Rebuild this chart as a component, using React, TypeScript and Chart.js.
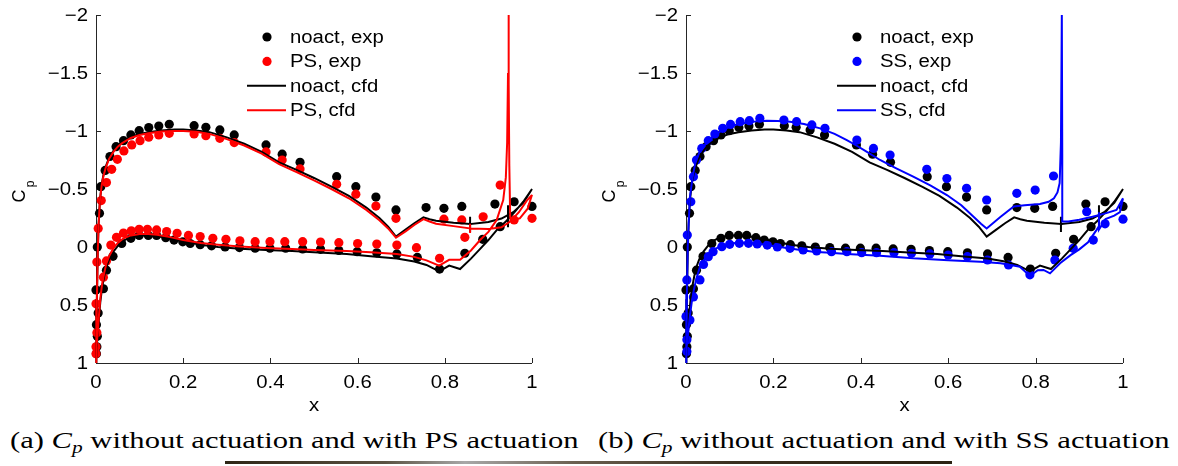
import React, { useEffect, useLayoutEffect, useRef, useState } from "react";
import { Chart, registerables } from "chart.js";

Chart.register(...registerables);

// ---------- axis ticks ----------
const xTickValues = [0, 0.2, 0.4, 0.6, 0.8, 1];
const xTickLabels = ["0", "0.2", "0.4", "0.6", "0.8", "1"];
const yTickValues = [-2, -1.5, -1, -0.5, 0, 0.5, 1];
const yTickLabels = ["\u22122", "\u22121.5", "\u22121", "\u22120.5", "0", "0.5", "1"];

// ---------- experiment: no actuation ----------
const noactExpX = [
  0.001, 0.002, 0.003, 0.001, 0.005, 0.0, 0.017, 0.003, 0.008, 0.011, 0.021, 0.032, 0.046, 0.063, 0.08, 0.099, 0.121,
  0.144, 0.168, 0.225, 0.252, 0.284, 0.317, 0.39, 0.427, 0.468, 0.552, 0.596, 0.642, 0.688, 0.757, 0.798, 0.839,
  0.915, 0.959, 1.0,
  0.024, 0.039, 0.059, 0.08, 0.099, 0.12, 0.139, 0.16, 0.179, 0.199, 0.216, 0.239, 0.265, 0.296, 0.329, 0.365, 0.399,
  0.435, 0.474, 0.515, 0.557, 0.599, 0.644, 0.69, 0.737, 0.788, 0.846, 0.887, 0.927,
];
const noactExpCp = [
  0.92, 0.86, 0.77, 0.67, 0.57, 0.37, 0.36, 0.0, -0.29, -0.52, -0.66, -0.78, -0.865, -0.917, -0.966, -1.003, -1.03,
  -1.043, -1.058, -1.046, -1.032, -1.009, -0.966, -0.88, -0.8, -0.73, -0.606, -0.52, -0.43, -0.32, -0.34, -0.333, -0.35,
  -0.37, -0.39, -0.35,
  0.2, 0.08, -0.03, -0.075, -0.1, -0.1, -0.1, -0.08, -0.06, -0.045, -0.03, -0.02, -0.01, 0.0, 0.005, 0.01, 0.01,
  0.01, 0.017, 0.02, 0.03, 0.04, 0.05, 0.06, 0.09, 0.19, 0.054, -0.066, -0.175,
];

// ---------- experiment: PS actuation ----------
const psExpX = [
  0.0, 0.0, 0.002, 0.0, 0.002, 0.005, 0.012, 0.024, 0.036, 0.049, 0.064, 0.082, 0.101, 0.121, 0.144, 0.168, 0.225,
  0.252, 0.284, 0.317, 0.39, 0.427, 0.468, 0.552, 0.596, 0.642, 0.688, 0.798, 0.839, 0.927, 0.959, 1.0,
  0.017, 0.024, 0.034, 0.047, 0.063, 0.081, 0.099, 0.118, 0.139, 0.162, 0.186, 0.212, 0.239, 0.268, 0.298, 0.33,
  0.365, 0.399, 0.433, 0.474, 0.515, 0.557, 0.6, 0.644, 0.69, 0.735, 0.788, 0.846, 0.888,
];
const psExpCp = [
  0.92, 0.86, 0.74, 0.49, 0.13, -0.16, -0.4, -0.555, -0.67, -0.756, -0.828, -0.88, -0.917, -0.946, -0.966, -0.98,
  -0.974, -0.96, -0.937, -0.9, -0.82, -0.75, -0.673, -0.54, -0.455, -0.353, -0.247, -0.24, -0.233, -0.534, -0.233,
  -0.247,
  0.26, 0.12, -0.017, -0.083, -0.12, -0.14, -0.153, -0.153, -0.147, -0.133, -0.118, -0.1, -0.09, -0.075, -0.067,
  -0.054, -0.046, -0.046, -0.046, -0.046, -0.043, -0.037, -0.03, -0.026, -0.017, 0.006, 0.097, -0.083, -0.26,
];

// ---------- experiment: SS actuation ----------
const ssExpX = [
  0.002, 0.002, 0.0, 0.009, 0.002, 0.003, 0.011, 0.017, 0.024, 0.036, 0.051, 0.066, 0.084, 0.102, 0.124, 0.145,
  0.169, 0.224, 0.253, 0.288, 0.318, 0.391, 0.429, 0.467, 0.551, 0.597, 0.642, 0.688, 0.757, 0.799, 0.841, 0.917,
  0.959, 1.0,
  0.017, 0.032, 0.04, 0.051, 0.062, 0.082, 0.1, 0.122, 0.143, 0.163, 0.186, 0.209, 0.238, 0.268, 0.299, 0.333,
  0.368, 0.402, 0.436, 0.476, 0.516, 0.558, 0.6, 0.644, 0.69, 0.738, 0.787, 0.844, 0.886, 0.932,
];
const ssExpCp = [
  0.9, 0.8, 0.6, 0.63, 0.284, -0.103, -0.39, -0.606, -0.75, -0.85, -0.917, -0.974, -1.023, -1.057, -1.08, -1.089,
  -1.11, -1.095, -1.08, -1.052, -1.023, -0.922, -0.85, -0.793, -0.67, -0.59, -0.506, -0.405, -0.463, -0.491, -0.612,
  -0.304, -0.2, -0.24,
  0.43, 0.284, 0.15, 0.083, 0.04, -0.003, -0.023, -0.032, -0.032, -0.026, -0.017, 0.0, 0.011, 0.026, 0.034, 0.04,
  0.04, 0.049, 0.049, 0.049, 0.054, 0.06, 0.069, 0.083, 0.112, 0.155, 0.24, 0.112, 0.011, -0.06,
];

// ---------- CFD: no actuation ----------
const noactCfdUpperX = [
  0, 0.001, 0.002, 0.004, 0.006, 0.009, 0.013, 0.017, 0.022, 0.03, 0.04, 0.05, 0.06, 0.08, 0.1, 0.12, 0.15, 0.18,
  0.2, 0.23, 0.26, 0.3, 0.34, 0.38, 0.42, 0.46, 0.5, 0.54, 0.58, 0.62, 0.65, 0.67, 0.688, 0.71, 0.73, 0.751, 0.765,
  0.78, 0.82, 0.858, 0.858, 0.858, 0.858, 0.9, 0.93, 0.957, 0.98, 1.0,
];
const noactCfdUpperCp = [
  1.0, 0.75, 0.45, 0.05, -0.2, -0.4, -0.54, -0.62, -0.69, -0.77, -0.83, -0.875, -0.905, -0.95, -0.975, -0.99, -1.005,
  -1.012, -1.012, -1.005, -0.99, -0.945, -0.89, -0.82, -0.73, -0.665, -0.595, -0.52, -0.44, -0.34, -0.25, -0.175,
  -0.09, -0.15, -0.205, -0.256, -0.24, -0.227, -0.21, -0.198, -0.26, -0.13, -0.198, -0.215, -0.245, -0.3, -0.38, -0.5,
];
const noactCfdLowerX = [
  0, 0.002, 0.004, 0.007, 0.01, 0.014, 0.019, 0.024, 0.03, 0.04, 0.05, 0.063, 0.08, 0.1, 0.12, 0.14, 0.17, 0.2, 0.24,
  0.28, 0.33, 0.39, 0.45, 0.5, 0.575, 0.63, 0.69, 0.73, 0.758, 0.787, 0.81, 0.835, 0.86, 0.88, 0.9, 0.92, 0.94, 0.945,
  0.945, 0.945, 0.945, 0.96, 0.98, 1.0,
];
const noactCfdLowerCp = [
  1.0, 0.88, 0.76, 0.6, 0.47, 0.35, 0.25, 0.17, 0.11, 0.04, -0.01, -0.055, -0.085, -0.1, -0.1, -0.095, -0.075, -0.05,
  -0.02, 0.0, 0.015, 0.026, 0.035, 0.045, 0.06, 0.08, 0.1, 0.125, 0.155, 0.21, 0.16, 0.19, 0.1, 0.02, -0.06, -0.15,
  -0.22, -0.24, -0.36, -0.17, -0.24, -0.3, -0.39, -0.5,
];

// ---------- CFD: PS actuation ----------
const psCfdUpperX = [
  0, 0.001, 0.002, 0.004, 0.006, 0.009, 0.013, 0.017, 0.022, 0.03, 0.04, 0.05, 0.06, 0.08, 0.1, 0.12, 0.15, 0.18,
  0.2, 0.23, 0.26, 0.3, 0.34, 0.38, 0.42, 0.46, 0.5, 0.54, 0.58, 0.62, 0.65, 0.67, 0.688, 0.71, 0.73, 0.751, 0.765,
  0.78, 0.82, 0.858, 0.858, 0.858, 0.858, 0.9, 0.93, 0.95, 0.97, 0.988, 1.0,
];
const psCfdUpperCp = [
  1.0, 0.75, 0.45, 0.05, -0.2, -0.4, -0.53, -0.61, -0.68, -0.76, -0.82, -0.865, -0.895, -0.94, -0.965, -0.98, -0.995,
  -1.0, -1.0, -0.993, -0.975, -0.93, -0.875, -0.805, -0.715, -0.645, -0.575, -0.5, -0.42, -0.32, -0.23, -0.16, -0.08,
  -0.135, -0.19, -0.24, -0.22, -0.2, -0.18, -0.16, -0.2, -0.12, -0.16, -0.155, -0.17, -0.22, -0.3, -0.4, -0.45,
];
const psCfdLowerX = [
  0, 0.002, 0.004, 0.007, 0.01, 0.014, 0.019, 0.024, 0.03, 0.04, 0.05, 0.063, 0.08, 0.1, 0.12, 0.14, 0.17, 0.2, 0.24,
  0.28, 0.33, 0.39, 0.45, 0.5, 0.575, 0.63, 0.69, 0.73, 0.758, 0.787, 0.81, 0.835, 0.86, 0.881, 0.9, 0.919, 0.934,
  0.94, 0.943, 0.945, 0.946, 0.947, 0.948, 0.95, 0.955, 0.972, 0.99, 1.0,
];
const psCfdLowerCp = [
  1.0, 0.87, 0.74, 0.58, 0.44, 0.32, 0.22, 0.14, 0.08, 0.01, -0.035, -0.075, -0.1, -0.112, -0.112, -0.105, -0.085,
  -0.06, -0.035, -0.02, -0.005, 0.008, 0.018, 0.025, 0.035, 0.045, 0.06, 0.085, 0.115, 0.16, 0.11, 0.11, 0.03, -0.06,
  -0.13, -0.233, -0.405, -0.6, -0.9, -1.5, -2.0, -1.4, -0.7, -0.25, -0.233, -0.247, -0.33, -0.45,
];

// ---------- CFD: SS actuation ----------
const ssCfdUpperX = [
  0, 0.001, 0.002, 0.004, 0.006, 0.009, 0.015, 0.021, 0.03, 0.04, 0.05, 0.062, 0.08, 0.1, 0.12, 0.139, 0.16, 0.185,
  0.21, 0.238, 0.27, 0.307, 0.34, 0.368, 0.39, 0.414, 0.444, 0.48, 0.52, 0.56, 0.597, 0.63, 0.658, 0.675, 0.688, 0.72,
  0.75, 0.775, 0.81, 0.83, 0.842, 0.85, 0.855, 0.858, 0.859, 0.86, 0.861, 0.862, 0.875, 0.9, 0.93, 0.96, 0.985, 1.0,
];
const ssCfdUpperCp = [
  1.0, 0.7, 0.4, 0.0, -0.2, -0.43, -0.6, -0.72, -0.81, -0.865, -0.91, -0.95, -1.0, -1.037, -1.06, -1.072, -1.083,
  -1.089, -1.087, -1.08, -1.06, -1.023, -0.975, -0.922, -0.875, -0.82, -0.75, -0.68, -0.606, -0.53, -0.448, -0.36,
  -0.26, -0.2, -0.16, -0.26, -0.35, -0.36, -0.37, -0.39, -0.42, -0.47, -0.55, -0.9, -2.0, -2.0, -0.8, -0.22, -0.22,
  -0.235, -0.26, -0.29, -0.32, -0.42,
];
const ssCfdLowerX = [
  0, 0.002, 0.004, 0.008, 0.013, 0.018, 0.024, 0.032, 0.045, 0.062, 0.08, 0.1, 0.12, 0.139, 0.17, 0.215, 0.25, 0.291,
  0.33, 0.368, 0.444, 0.52, 0.6, 0.673, 0.72, 0.749, 0.764, 0.787, 0.805, 0.818, 0.833, 0.856, 0.88, 0.9, 0.92, 0.94,
  0.945, 0.945, 0.945, 0.96, 0.98, 0.993, 1.0,
];
const ssCfdLowerCp = [
  1.0, 0.88, 0.78, 0.62, 0.48, 0.37, 0.27, 0.17, 0.09, 0.026, -0.01, -0.03, -0.037, -0.037, -0.025, 0.0, 0.02, 0.04,
  0.05, 0.06, 0.075, 0.098, 0.115, 0.127, 0.14, 0.16, 0.17, 0.25, 0.2, 0.198, 0.227, 0.14, 0.07, 0.02, -0.04, -0.15,
  -0.18, -0.3, -0.15, -0.24, -0.27, -0.3, -0.42,
];

const BLACK = "#000000";
const RED = "#ff0000";
const BLUE = "#0000ff";
const FONT = '"Liberation Sans", Arial, Helvetica, sans-serif';
const SERIF = '"Liberation Serif", "Times New Roman", Times, serif';
const TEXT_SIZE = 18;
const TEXT_STRETCH = 1.13;

function pts(xs: number[], ys: number[]) {
  return xs.map((x, i) => ({ x, y: ys[i] }));
}
function loop(ux: number[], uy: number[], lx: number[], ly: number[]) {
  return [...pts(ux, uy).reverse(), ...pts(lx, ly)];
}

function expSet(label: string, color: string, data: any[], order: number) {
  return {
    label,
    data,
    showLine: false,
    pointRadius: 4.6,
    pointHoverRadius: 4.6,
    pointBorderWidth: 0,
    borderWidth: 0,
    backgroundColor: color,
    borderColor: color,
    clip: false,
    order,
  };
}
function cfdSet(label: string, color: string, data: any[], order: number) {
  return {
    label,
    data,
    showLine: true,
    pointRadius: 0,
    pointHoverRadius: 0,
    borderWidth: 2,
    borderColor: color,
    backgroundColor: color,
    fill: false,
    tension: 0,
    clip: false,
    order,
  };
}

function tickLabel(values: number[], labels: string[], v: number) {
  const i = values.findIndex((t) => Math.abs(t - v) < 1e-6);
  return i >= 0 ? labels[i] : "";
}

function stretchedText(ctx: CanvasRenderingContext2D, text: string, x: number, y: number, size: number) {
  ctx.save();
  ctx.translate(x, y);
  ctx.scale(TEXT_STRETCH, 1);
  ctx.font = `${size}px ${FONT}`;
  ctx.fillText(text, 0, 0);
  ctx.restore();
}

const decorPlugin = {
  id: "decor",
  beforeDatasetsDraw(chart: any) {
    const { ctx, chartArea: ca, scales } = chart;
    const x = scales.x;
    const y = scales.y;
    ctx.save();
    ctx.strokeStyle = "#262626";
    ctx.lineWidth = 1;
    ctx.beginPath();
    ctx.moveTo(ca.left + 0.5, ca.top);
    ctx.lineTo(ca.left + 0.5, ca.bottom + 0.5);
    ctx.lineTo(ca.right, ca.bottom + 0.5);
    for (const t of x.ticks) {
      const px = Math.round(x.getPixelForValue(t.value)) + 0.5;
      ctx.moveTo(px, ca.bottom);
      ctx.lineTo(px, ca.bottom - 5);
    }
    for (const t of y.ticks) {
      const py = Math.round(y.getPixelForValue(t.value)) + 0.5;
      ctx.moveTo(ca.left, py);
      ctx.lineTo(ca.left + 5, py);
    }
    ctx.stroke();

    ctx.fillStyle = "#000";
    ctx.textBaseline = "middle";
    ctx.textAlign = "center";
    for (const t of x.ticks) {
      const px = x.getPixelForValue(t.value);
      stretchedText(ctx, tickLabel(xTickValues, xTickLabels, t.value), px, ca.bottom + 20, TEXT_SIZE);
    }
    ctx.textAlign = "right";
    for (const t of y.ticks) {
      const py = y.getPixelForValue(t.value);
      stretchedText(ctx, tickLabel(yTickValues, yTickLabels, t.value), ca.left - 8, py + 1, TEXT_SIZE);
    }
    ctx.restore();
  },
  afterDraw(chart: any) {
    const { ctx, chartArea: ca } = chart;
    ctx.save();
    ctx.fillStyle = "#000";
    ctx.textAlign = "center";
    ctx.textBaseline = "middle";
    stretchedText(ctx, "x", (ca.left + ca.right) / 2, 406, TEXT_SIZE);
    ctx.save();
    ctx.translate(20, 196);
    ctx.rotate(-Math.PI / 2);
    ctx.font = `18px ${FONT}`;
    ctx.fillText("C", 0, 0);
    ctx.font = `12px ${FONT}`;
    ctx.fillText("p", 12, 11);
    ctx.restore();
    const ds = chart.data.datasets;
    [0, 1, 2, 3].forEach((k, i) => {
      const d = ds[k];
      const cy = 37 + i * 24.4;
      if (d.showLine) {
        ctx.strokeStyle = d.borderColor;
        ctx.lineWidth = 2;
        ctx.beginPath();
        ctx.moveTo(ca.left + 151, cy);
        ctx.lineTo(ca.left + 190, cy);
        ctx.stroke();
      } else {
        ctx.fillStyle = d.backgroundColor;
        ctx.beginPath();
        ctx.arc(ca.left + 171, cy, 4.6, 0, Math.PI * 2);
        ctx.fill();
      }
      ctx.fillStyle = "#000";
      ctx.textAlign = "left";
      ctx.textBaseline = "middle";
      stretchedText(ctx, d.label, ca.left + 194, cy + 1, TEXT_SIZE);
    });
    ctx.restore();
  },
};

function makeConfig(datasets: any[], rightPad: number) {
  return {
    type: "scatter" as const,
    data: { datasets },
    options: {
      animation: false,
      responsive: false,
      maintainAspectRatio: false,
      devicePixelRatio: 1,
      events: [],
      layout: { padding: { top: 15, right: rightPad, bottom: 0, left: 0 } },
      plugins: { legend: { display: false }, tooltip: { enabled: false } },
      scales: {
        x: {
          type: "linear",
          min: 0,
          max: 1,
          grid: { display: false, drawTicks: false },
          border: { display: false },
          ticks: {
            display: false,
            stepSize: 0.2,
            autoSkip: false,
            maxRotation: 0,
            callback: (v: number) => tickLabel(xTickValues, xTickLabels, v),
          },
          afterFit: (s: any) => {
            s.height = 57;
          },
        },
        y: {
          type: "linear",
          reverse: true,
          min: -2,
          max: 1,
          grid: { display: false, drawTicks: false },
          border: { display: false },
          ticks: {
            display: false,
            stepSize: 0.5,
            autoSkip: false,
            callback: (v: number) => tickLabel(yTickValues, yTickLabels, v),
          },
          afterFit: (s: any) => {
            s.width = 96;
          },
        },
      },
    },
    plugins: [decorPlugin],
  };
}

function CpChart({ datasets, left, width, rightPad }: { datasets: any[]; left: number; width: number; rightPad: number }) {
  const ref = useRef<HTMLCanvasElement | null>(null);
  useEffect(() => {
    if (!ref.current) return;
    const chart = new Chart(ref.current, makeConfig(datasets, rightPad) as any);
    return () => chart.destroy();
  }, []);
  return (
    <canvas
      ref={ref}
      width={width}
      height={420}
      style={{ position: "absolute", left, top: 0, width, height: 420, display: "block" }}
    />
  );
}

function Caption({ letter, act, left, right }: { letter: string; act: string; left: number; right: number }) {
  const ref = useRef<HTMLSpanElement | null>(null);
  const [scale, setScale] = useState(1);
  useLayoutEffect(() => {
    if (ref.current) {
      const w = ref.current.offsetWidth;
      if (w > 0) setScale((right - left) / w);
    }
  }, []);
  return (
    <div
      style={{
        position: "absolute",
        left,
        top: 425,
        width: right - left,
        height: 30,
        overflow: "visible",
        whiteSpace: "nowrap",
      }}
    >
      <span
        ref={ref}
        style={{
          display: "inline-block",
          fontFamily: SERIF,
          fontSize: 24,
          lineHeight: "30px",
          color: "#000",
          transform: `scaleX(${scale})`,
          transformOrigin: "left center",
        }}
      >
        ({letter}) <i>C</i>
        <sub style={{ fontSize: "0.7em", verticalAlign: "-0.3em", lineHeight: 0 }}>
          <i>p</i>
        </sub>{" "}
        without actuation and with {act} actuation
      </span>
    </div>
  );
}

export default function App() {
  const noactExp = pts(noactExpX, noactExpCp);
  const noactCfd = loop(noactCfdUpperX, noactCfdUpperCp, noactCfdLowerX, noactCfdLowerCp);
  const leftSets = [
    expSet("noact, exp", BLACK, noactExp, 4),
    expSet("PS, exp", RED, pts(psExpX, psExpCp), 3),
    cfdSet("noact, cfd", BLACK, noactCfd, 2),
    cfdSet("PS, cfd", RED, loop(psCfdUpperX, psCfdUpperCp, psCfdLowerX, psCfdLowerCp), 1),
  ];
  const rightSets = [
    expSet("noact, exp", BLACK, noactExp, 4),
    expSet("SS, exp", BLUE, pts(ssExpX, ssExpCp), 3),
    cfdSet("noact, cfd", BLACK, noactCfd, 2),
    cfdSet("SS, cfd", BLUE, loop(ssCfdUpperX, ssCfdUpperCp, ssCfdLowerX, ssCfdLowerCp), 1),
  ];
  return (
    <div style={{ position: "absolute", left: 0, top: 0, width: 1178, height: 466, background: "#fff", overflow: "hidden" }}>
      <CpChart datasets={leftSets} left={0} width={589} rightPad={57} />
      <CpChart datasets={rightSets} left={590} width={588} rightPad={55} />
      <Caption letter="a" act="PS" left={10} right={578} />
      <Caption letter="b" act="SS" left={598} right={1170} />
      <div
        style={{
          position: "absolute",
          left: 225,
          top: 461,
          width: 727,
          height: 3,
          background:
            "linear-gradient(to right, #2e2616 0%, #5b5242 22%, #a8a8a8 33%, #6b6050 48%, #3a3020 70%, #2a2212 100%)",
        }}
      />
    </div>
  );
}
